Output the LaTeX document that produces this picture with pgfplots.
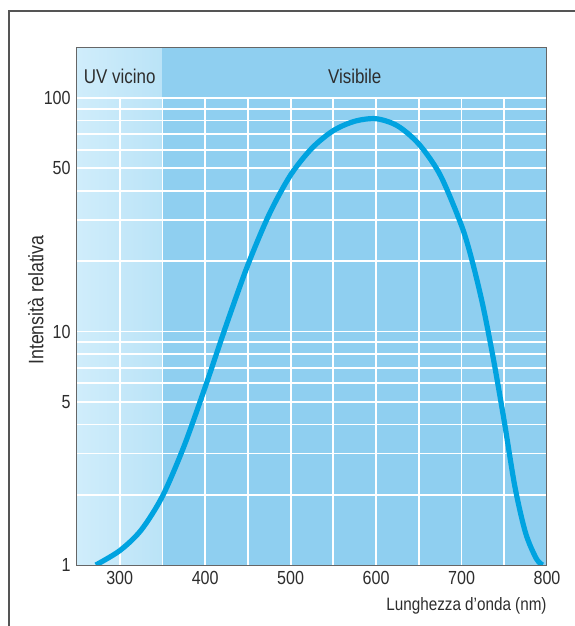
\documentclass[border=0pt]{standalone}
\usepackage{fontspec}
\setmainfont{Liberation Sans}[FakeStretch=0.85]
\usepackage{pgfplots}
\pgfplotsset{compat=1.18}
\definecolor{uvblue}{RGB}{186,227,247}
\definecolor{uvblueL}{RGB}{208,237,251}
\definecolor{visblue}{RGB}{143,207,240}
\definecolor{curveblue}{RGB}{0,163,224}
\definecolor{framegray}{RGB}{85,85,85}
\definecolor{txt}{RGB}{45,45,45}
\begin{document}
\fontsize{9}{11}\selectfont
\begin{tikzpicture}[x=1bp,y=1bp]
\useasboundingbox (-38.5,-30.5) rectangle (249,282.5);
\draw[framegray, line width=0.7bp] (-34,-31) -- (-34,277) -- (250,277);
\begin{axis}[
  at={(0,0)}, anchor=south west,
  scale only axis, width=235bp, height=259bp,
  xmin=250, xmax=800, ymode=log, ymin=1, ymax=165.3,
  xtick={300,400,500,600,700,800},
  ytick={1,5,10,50,100}, yticklabels={1,5,10,50,100},
  minor ytick={}, minor xtick={},
  major tick length=0pt, minor tick length=0pt,
  axis line style={draw=gray!80!black, line width=0.5bp},
  tick label style={font=\fontsize{9.5}{11}\selectfont, text=txt},
  /pgf/number format/assume math mode=true,
  axis on top,
  clip=true,
]
\fill[left color=uvblueL, right color=uvblue] (axis cs:250,1) rectangle (axis cs:350,165.3);
\fill[visblue] (axis cs:350,1) rectangle (axis cs:800,165.3);
\pgfplotsinvokeforeach{300,350,400,450,500,550,600,650,700,750}{
  \draw[white, line width=0.9bp] (axis cs:#1,1) -- (axis cs:#1,100);
}
\pgfplotsinvokeforeach{2,3,4,5,6,7,8,9,10,20,30,40,50,60,70,80,90,100}{
  \draw[white, line width=0.9bp] (axis cs:250,#1) -- (axis cs:800,#1);
}
\addplot[curveblue, line width=2.6bp, smooth, tension=0.5] coordinates {
(272,1.00) (300,1.152) (325,1.41) (350,1.97) (375,3.21) (400,5.78)
(425,10.74) (450,19.3) (475,31.8) (500,46.8) (525,61.0) (550,72.5)
(575,79.5) (600,81.5) (625,76.0) (650,63.5) (675,46.8) (700,28.4)
(712.5,20.0) (725,12.9) (737.5,7.55) (750,4.12) (762.5,2.16) (775,1.37)
(787.5,1.065) (795,1.00)
};
\node[text=txt, font=\fontsize{10}{12}\selectfont] at (axis cs:300,124) {UV vicino};
\node[text=txt, font=\fontsize{10}{12}\selectfont] at (axis cs:575,124) {Visibile};
\end{axis}
\node[anchor=north east, inner sep=0, text=txt] at (235,-16) {Lunghezza d’onda (nm)};
\node[rotate=90, anchor=south, inner sep=0, text=txt, font=\fontsize{10.5}{12}\selectfont] at (-16.5,132.5) {Intensità relativa};
\end{tikzpicture}
\end{document}
